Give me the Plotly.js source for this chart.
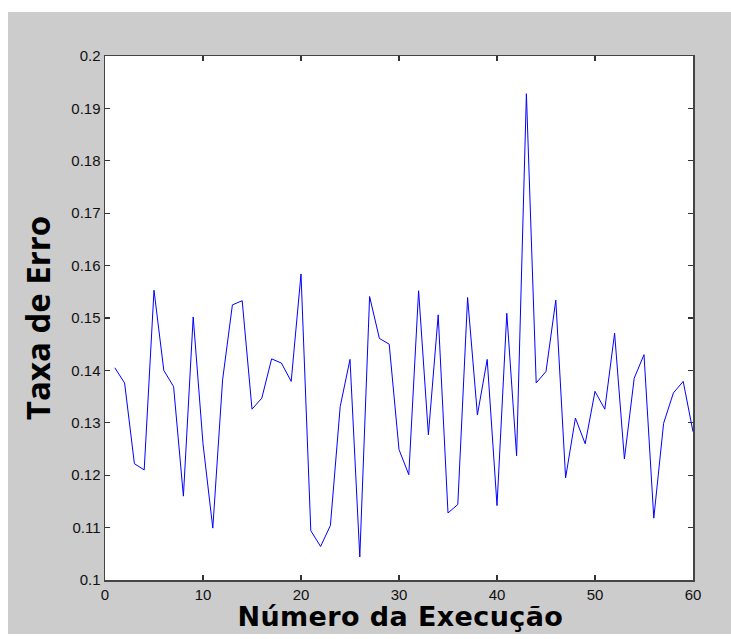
<!DOCTYPE html>
<html>
<head>
<meta charset="utf-8">
<script src="https://cdn.plot.ly/plotly-3.0.1.min.js"></script>
<style>
  html, body { margin: 0; padding: 0; background: #ffffff; }
  #chart { position: absolute; left: 8px; top: 12px; width: 723px; height: 622px; }
  #chart svg.main-svg { overflow: visible; }
  #chart .annotation-text { letter-spacing: 0.4px; }
</style>
</head>
<body>
<div id="chart"></div>
<script>
const execucao = [1,2,3,4,5,6,7,8,9,10,11,12,13,14,15,16,17,18,19,20,
                  21,22,23,24,25,26,27,28,29,30,31,32,33,34,35,36,37,38,39,40,
                  41,42,43,44,45,46,47,48,49,50,51,52,53,54,55,56,57,58,59,60];
const taxaErro = [0.1405,0.1376,0.1222,0.1210,0.1553,0.1400,0.1369,0.1160,0.1502,0.1260,
                  0.1099,0.1382,0.1525,0.1533,0.1326,0.1347,0.1422,0.1414,0.1379,0.1584,
                  0.1094,0.1064,0.1104,0.1331,0.1421,0.1044,0.1541,0.1461,0.1450,0.1249,
                  0.1201,0.1552,0.1277,0.1506,0.1128,0.1144,0.1539,0.1315,0.1421,0.1142,
                  0.1509,0.1237,0.1928,0.1376,0.1398,0.1534,0.1195,0.1309,0.1260,0.1360,
                  0.1326,0.1471,0.1231,0.1385,0.1430,0.1118,0.1299,0.1357,0.1379,0.1283];
const xTicks = [0,10,20,30,40,50,60];
const yTicks = [0.1,0.11,0.12,0.13,0.14,0.15,0.16,0.17,0.18,0.19,0.2];
const yTickText = ['0.1','0.11','0.12','0.13','0.14','0.15','0.16','0.17','0.18','0.19','0.2'];
const xTitle = 'Número da Execução';
const yTitle = 'Taxa de Erro';

const trace = {
  x: execucao, y: taxaErro, type: 'scatter', mode: 'lines',
  line: { color: '#0000ff', width: 1 }, hoverinfo: 'skip'
};

const axisCommon = {
  showgrid: false, zeroline: false, showline: true, mirror: 'ticks',
  linecolor: '#444444', linewidth: 1.5,
  ticks: 'inside', ticklen: 5, tickwidth: 1.2, tickcolor: '#333333',
  tickfont: { family: 'Liberation Sans, Arial, sans-serif', size: 15, color: '#111111' }
};

const layout = {
  width: 723, height: 622,
  paper_bgcolor: '#cccccc', plot_bgcolor: '#ffffff',
  margin: { l: 97, r: 38, t: 44, b: 54 },
  showlegend: false,
  xaxis: Object.assign({}, axisCommon, {
    range: [0, 60], tickvals: xTicks, ticktext: xTicks.map(String)
  }),
  yaxis: Object.assign({}, axisCommon, {
    range: [0.1, 0.2], tickvals: yTicks, ticktext: yTickText,
    title: { text: '<b>' + yTitle + '</b>', standoff: 10,
      font: { family: 'Open Sans, Noto Sans, sans-serif', size: 33, color: '#000000' } }
  }),
  annotations: [{
    text: '<b>' + xTitle + '</b>', xref: 'paper', yref: 'paper', x: 0.503, y: 0,
    xanchor: 'center', yanchor: 'top', yshift: -19, showarrow: false,
    font: { family: 'DejaVu Sans, sans-serif', size: 27, color: '#000000' }
  }]
};

Plotly.newPlot('chart', [trace], layout, { displayModeBar: false, staticPlot: true });
</script>
</body>
</html>
